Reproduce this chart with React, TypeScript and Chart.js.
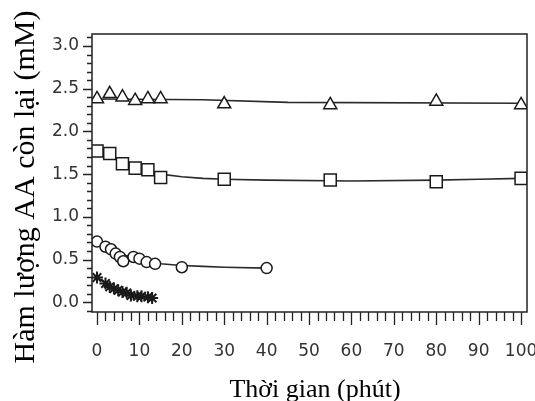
import React, { useEffect, useRef } from "react";
import { Chart, registerables } from "chart.js";

Chart.register(...registerables);

// Triangles (top series)
const triX = [0, 3, 6, 9, 12, 15, 30, 55, 80, 100];
const triY = [2.38, 2.44, 2.40, 2.36, 2.38, 2.38, 2.32, 2.31, 2.35, 2.31];
const triFitX = [0, 25, 45, 100];
const triFitY = [2.38, 2.37, 2.34, 2.33];

// Squares
const sqX = [0, 3, 6, 9, 12, 15, 30, 55, 80, 100];
const sqY = [1.77, 1.74, 1.62, 1.57, 1.55, 1.46, 1.44, 1.43, 1.41, 1.45];
const sqFitX = [0, 5, 10, 15, 20, 25, 30, 40, 60, 80, 90, 100];
const sqFitY = [1.78, 1.66, 1.57, 1.5, 1.47, 1.45, 1.44, 1.43, 1.42, 1.43, 1.44, 1.45];

// Circles
const circX = [0, 2, 3.3, 4.4, 5.4, 6.2, 8.6, 10, 11.7, 13.7, 20, 40];
const circY = [0.71, 0.65, 0.62, 0.57, 0.53, 0.48, 0.53, 0.51, 0.47, 0.45, 0.41, 0.4];
const circFitX = [0, 3, 6, 10, 15, 20, 25, 30, 40];
const circFitY = [0.72, 0.63, 0.56, 0.5, 0.45, 0.43, 0.42, 0.41, 0.4];

// Stars
const starX = [0, 2, 3, 4, 5, 6, 7, 8, 9.5, 10.5, 12, 13];
const starY = [0.29, 0.22, 0.18, 0.16, 0.14, 0.12, 0.11, 0.08, 0.07, 0.07, 0.06, 0.05];
const starFitX = [0, 3, 6, 9, 13];
const starFitY = [0.29, 0.2, 0.13, 0.08, 0.05];

const xTitle = "Thời gian (phút)";
const yTitle = "Hàm lượng AA còn lại (mM)";

const pts = (xs: number[], ys: number[]) => xs.map((x, i) => ({ x, y: ys[i] }));

const markerDs = (data: any, style: string, r: number, bw = 1.5) => ({
  data,
  showLine: false,
  pointStyle: style,
  pointRadius: r,
  pointBorderColor: "#1a1a1a",
  pointBackgroundColor: "#ffffff",
  pointBorderWidth: bw,
  borderColor: "#1a1a1a",
  backgroundColor: "#ffffff",
});

const lineDs = (data: any) => ({
  data,
  showLine: true,
  pointRadius: 0,
  borderColor: "#2a2a2a",
  borderWidth: 1.6,
  fill: false,
  tension: 0,
});

const decoPlugin = {
  id: "deco",
  afterDraw(chart: any) {
    const { ctx, chartArea, scales } = chart;
    const { left, right, top, bottom } = chartArea;
    ctx.save();
    ctx.strokeStyle = "#222";
    ctx.lineWidth = 1.5;
    ctx.strokeRect(left, top, right - left, bottom - top);
    // y ticks
    ctx.lineWidth = 1.3;
    ctx.beginPath();
    scales.y.ticks.forEach((t: any) => {
      const py = Math.round(scales.y.getPixelForValue(t.value)) + 0.5;
      const major = Math.round(t.value * 10) % 5 === 0;
      ctx.moveTo(left - (major ? 9 : 5), py);
      ctx.lineTo(left, py);
    });
    // x ticks
    scales.x.ticks.forEach((t: any) => {
      const px = Math.round(scales.x.getPixelForValue(t.value)) + 0.5;
      const major = Math.round(t.value) % 10 === 0;
      ctx.moveTo(px, bottom);
      ctx.lineTo(px, bottom + (major ? 13 : 9));
    });
    ctx.stroke();
    // titles
    ctx.fillStyle = "#000";
    ctx.textAlign = "center";
    ctx.textBaseline = "alphabetic";
    ctx.font = "26px 'Liberation Serif', 'DejaVu Serif', serif";
    ctx.fillText(xTitle, 315, 397);
    ctx.translate(34, 187);
    ctx.rotate(-Math.PI / 2);
    ctx.font = "30px 'Liberation Serif', 'DejaVu Serif', serif";
    ctx.fillText(yTitle, 0, 0);
    ctx.restore();
  },
};

export default function App() {
  const ref = useRef<HTMLCanvasElement>(null);
  useEffect(() => {
    if (!ref.current) return;
    const chart = new Chart(ref.current, {
      type: "scatter",
      data: {
        datasets: [
          markerDs(pts(triX, triY), "triangle", 7.5),
          markerDs(pts(sqX, sqY), "rect", 8.5),
          markerDs(pts(circX, circY), "circle", 5.5),
          markerDs(pts(starX, starY), "star", 6, 2),
          lineDs(pts(triFitX, triFitY)),
          lineDs(pts(sqFitX, sqFitY)),
          lineDs(pts(circFitX, circFitY)),
          lineDs(pts(starFitX, starFitY)),
        ] as any,
      },
      options: {
        responsive: false,
        animation: false,
        layout: { padding: { top: 34, right: 23, left: 0, bottom: 0 } },
        plugins: { legend: { display: false }, tooltip: { enabled: false } },
        scales: {
          x: {
            type: "linear",
            min: -1.18,
            max: 101.4,
            afterFit: (s: any) => {
              s.height = 89;
            },
            grid: { display: false, drawTicks: true, tickLength: 29 },
            border: { display: false },
            ticks: {
              stepSize: 2,
              includeBounds: false,
              autoSkip: false,
              maxRotation: 0,
              minRotation: 0,
              padding: 0,
              color: "#333",
              font: { family: "'DejaVu Sans', sans-serif", size: 17, lineHeight: 1.2 },
              callback: (v: any) => (Math.round(Number(v)) % 10 === 0 ? String(Math.round(Number(v))) : ""),
            },
          },
          y: {
            type: "linear",
            min: -0.114,
            max: 3.14,
            afterFit: (s: any) => {
              s.width = 92;
            },
            grid: { display: false, drawTicks: true, tickLength: 13 },
            border: { display: false },
            ticks: {
              stepSize: 0.1,
              includeBounds: false,
              autoSkip: false,
              padding: 0,
              color: "#333",
              font: { family: "'DejaVu Sans', sans-serif", size: 17 },
              callback: (v: any) => {
                const n = Math.round(Number(v) * 10);
                return n % 5 === 0 ? (n / 10).toFixed(1) : "";
              },
            },
          },
        },
      } as any,
      plugins: [decoPlugin],
    });
    return () => chart.destroy();
  }, []);
  return (
    <div
      style={{
        position: "fixed",
        left: 0,
        top: 0,
        width: 535,
        height: 401,
        overflow: "hidden",
        background: "#fff",
      }}
    >
      <canvas ref={ref} width={550} height={401} style={{ display: "block" }} />
    </div>
  );
}
